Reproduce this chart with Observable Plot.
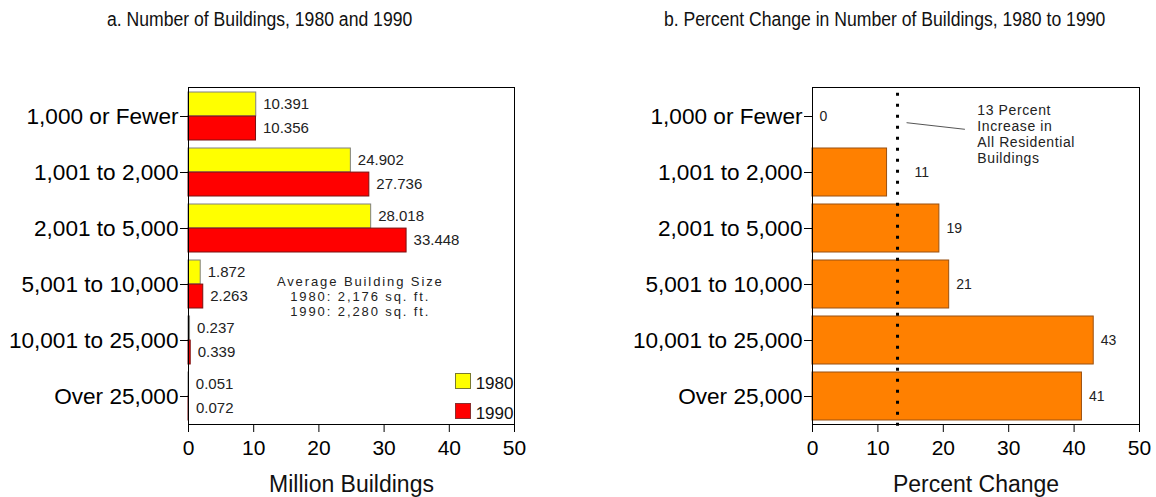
<!DOCTYPE html>
<html><head><meta charset="utf-8">
<script src="https://cdn.jsdelivr.net/npm/d3@7"></script>
<script src="https://cdn.jsdelivr.net/npm/@observablehq/plot@0.6"></script>
<style>
body{margin:0;background:#fff;font-family:"Liberation Sans",Arial,sans-serif;}
#wrap{position:relative;width:1156px;height:497px;overflow:hidden;background:#fff;}
.title{position:absolute;top:9px;font-family:"Liberation Sans Narrow","Arial Narrow","Liberation Sans",sans-serif;font-size:20px;line-height:20px;color:#111;white-space:nowrap;transform:scaleX(0.88);transform-origin:0 0;}
.panel{position:absolute;top:40px;}
.legend-item{position:absolute;font-size:17px;line-height:17px;color:#111;white-space:nowrap;}
.legend-swatch{position:absolute;width:14px;height:14px;}
</style></head>
<body><div id="wrap">
<div class="title" style="left:107px">a. Number of Buildings, 1980 and 1990</div>
<div class="title" style="left:664px">b. Percent Change in Number of Buildings, 1980 to 1990</div>
<div id="panelA" class="panel" style="left:0"></div>
<div id="panelB" class="panel" style="left:578px"></div>
<div id="legend"></div>
</div>
<script>
// ---- data ----
const categories = ["1,000 or Fewer","1,001 to 2,000","2,001 to 5,000","5,001 to 10,000","10,001 to 25,000","Over 25,000"];
const buildings1980 = [10.391, 24.902, 28.018, 1.872, 0.237, 0.051];
const buildings1990 = [10.356, 27.736, 33.448, 2.263, 0.339, 0.072];
const percentChange = [0, 11.4, 19.4, 20.9, 43.0, 41.2];
const percentLabels = ["0","11","19","21","43","41"];
const xTicks = [0,10,20,30,40,50];
const legendYears = ["1980","1990"];
const allResidentialIncrease = 13;
const avgSizeNote = "Average Building Size\n1980: 2,176 sq. ft.\n1990: 2,280 sq. ft.";
const refNote = "13 Percent\nIncrease in\nAll Residential\nBuildings";

const colors = {y1980:"#ffff00", y1990:"#ff0000", change:"#ff8000"};
const fmt = d3.format(".3f");

const W = 578, H = 457, MT = 47, MB = 73;
const half = (H - MT - MB) / categories.length / 2;
const font = '"Liberation Sans", Arial, sans-serif';

const rowsA = categories.map((c,i)=>({cat:c, v80:buildings1980[i], v90:buildings1990[i]}));
const rowsB = categories.map((c,i)=>({cat:c, pct:percentChange[i], label:percentLabels[i]}));

const axisCommon = [
  Plot.frame({stroke:"black", strokeWidth:1}),
  Plot.axisY({tickSize:8, tickPadding:2, fontSize:22.6, label:null, stroke:"black", fill:"black"}),
  Plot.axisX({ticks:xTicks, tickSize:8, tickPadding:8, fontSize:21, label:null, tickFormat:d=>String(d), stroke:"black", fill:"black"})
];

const chartA = Plot.plot({
  width:W, height:H, marginLeft:188, marginRight:64, marginTop:MT, marginBottom:MB,
  style:{fontFamily:font, background:"white", color:"black", overflow:"visible"},
  x:{domain:[0,50], label:null},
  y:{domain:categories, padding:0, label:null},
  marks:[
    Plot.barX(rowsA, {y:"cat", x:"v80", fill:colors.y1980, stroke:"#808080", insetTop:4, insetBottom:half}),
    Plot.barX(rowsA, {y:"cat", x:"v90", fill:colors.y1990, stroke:"#7a1010", insetTop:half, insetBottom:4}),
    Plot.text(rowsA, {y:"cat", x:"v80", text:d=>fmt(d.v80), dx:7, dy:-12.5, textAnchor:"start", fontSize:15, fill:"#222"}),
    Plot.text(rowsA, {y:"cat", x:"v90", text:d=>fmt(d.v90), dx:7, dy:12, textAnchor:"start", fontSize:15, fill:"#222"}),
    Plot.text([{note:avgSizeNote, cat:categories[3]}], {x:()=>26.35, y:"cat", text:"note", dy:12, textAnchor:"middle", lineAnchor:"middle", lineHeight:1.14, fontSize:13, fill:"#222"}),
    ...axisCommon,
    Plot.text(["Million Buildings"], {frameAnchor:"bottom", dy:60, lineAnchor:"middle", fontSize:23, fill:"#111"})
  ]
});
document.getElementById("panelA").append(chartA);

const nearRef = d => d.pct < allResidentialIncrease && (allResidentialIncrease - d.pct) < 3;

const chartB = Plot.plot({
  width:W, height:H, marginLeft:234, marginRight:17, marginTop:MT, marginBottom:MB,
  style:{fontFamily:font, background:"white", color:"black", overflow:"visible"},
  x:{domain:[0,50], label:null},
  y:{domain:categories, padding:0, label:null},
  marks:[
    Plot.barX(rowsB, {y:"cat", x:"pct", fill:colors.change, stroke:"#9a5010", insetTop:4, insetBottom:4}),
    Plot.ruleX([allResidentialIncrease], {stroke:"black", strokeWidth:3, strokeDasharray:"3,8", strokeDashoffset:5.2, insetBottom:-2}),
    Plot.text(rowsB.filter(d=>!nearRef(d)), {y:"cat", x:"pct", text:"label", dx:7, textAnchor:"start", fontSize:14, fill:"#222"}),
    Plot.text(rowsB.filter(nearRef), {y:"cat", x:()=>allResidentialIncrease, text:"label", dx:17, textAnchor:"start", fontSize:14, fill:"#222"}),
    Plot.text([{note:refNote, cat:categories[0]}], {x:()=>25.2, y:"cat", text:"note", dy:17.3, textAnchor:"start", lineAnchor:"middle", lineHeight:1.13, fontSize:14, fill:"#222"}),
    ...axisCommon,
    Plot.text(["Percent Change"], {frameAnchor:"bottom", dy:60, lineAnchor:"middle", fontSize:23, fill:"#111"})
  ]
});
document.getElementById("panelB").append(chartB);

// letter spacing of annotation notes
d3.select(chartA).selectAll("text").filter(function(){ return this.textContent.includes("Average Building"); })
  .style("letter-spacing","1.9px").selectAll("tspan").style("letter-spacing","1.9px");
d3.select(chartB).selectAll("text").filter(function(){ return this.textContent.includes("Percent") && this.textContent.includes("Residential"); })
  .style("letter-spacing","0.6px").selectAll("tspan").style("letter-spacing","0.6px");

// leader line from the reference line to its note, placed with the chart's scales
{
  const sx = chartB.scale("x"), sy = chartB.scale("y");
  const yc = sy.apply(categories[0]) + (sy.bandwidth || 0) / 2;
  d3.select(chartB).append("line")
    .attr("x1", sx.apply(14.46)).attr("y1", yc + 6.7)
    .attr("x2", sx.apply(23.38)).attr("y2", yc + 13.3)
    .attr("stroke", "#555").attr("stroke-width", 1);
}

// legend (inside panel a, bottom right)
{
  const sx = chartA.scale("x"), sy = chartA.scale("y");
  const yc = sy.apply(categories[5]) + (sy.bandwidth || 0) / 2;
  const leg = document.getElementById("legend");
  legendYears.forEach((yr, i) => {
    const top = 40 + yc - 23 + i * 30;
    const sw = document.createElement("div");
    sw.className = "legend-swatch";
    sw.style.left = (sx.apply(40.9)) + "px";
    sw.style.top = top + "px";
    sw.style.background = i === 0 ? colors.y1980 : colors.y1990;
    sw.style.border = "1px solid " + (i === 0 ? "#7a7a30" : "#8a3030");
    leg.append(sw);
    const t = document.createElement("div");
    t.className = "legend-item";
    t.textContent = yr;
    t.style.left = (sx.apply(40.9) + 21) + "px";
    t.style.top = (top + 2) + "px";
    leg.append(t);
  });
}
</script>
</body></html>
